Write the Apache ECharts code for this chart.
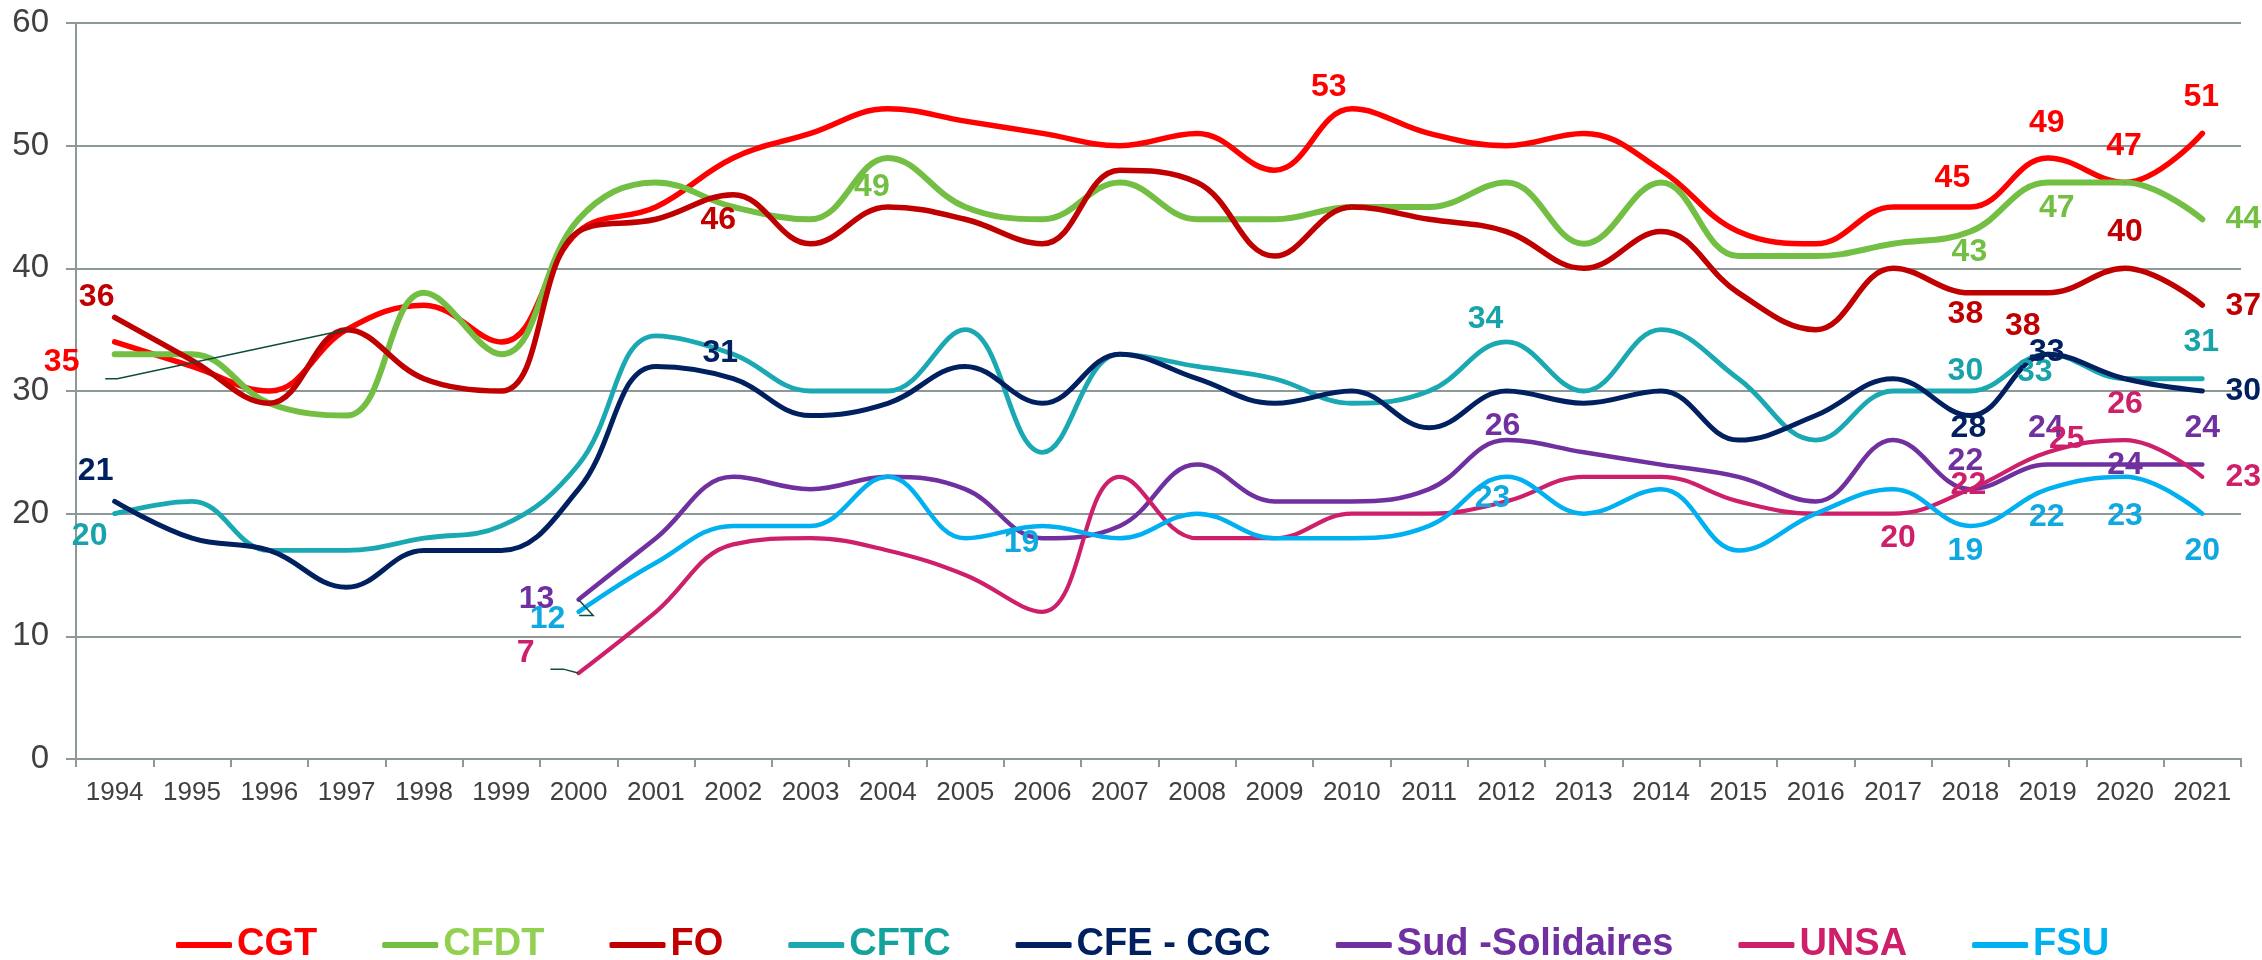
<!DOCTYPE html>
<html>
<head>
<meta charset="utf-8">
<script src="https://cdn.jsdelivr.net/npm/echarts@6/dist/echarts.min.js"></script>
<style>
  html, body {margin: 0; padding: 0; background: #fff;}
  #chart {width: 2262px; height: 960px;}
</style>
</head>
<body>
<div id="chart"></div>
<script>
const years = [1994, 1995, 1996, 1997, 1998, 1999, 2000, 2001, 2002, 2003, 2004, 2005, 2006, 2007,
  2008, 2009, 2010, 2011, 2012, 2013, 2014, 2015, 2016, 2017, 2018, 2019, 2020, 2021];

const cgt = [34, 32, 30, 35, 37, 34, 43, 45, 49, 51, 53, 52, 51, 50, 51, 48, 53, 51, 50, 51, 48, 43, 42, 45, 45, 49, 47, 51];
const cfdt = [33, 33, 29, 28, 38, 33, 44, 47, 45, 44, 49, 45, 44, 47, 44, 44, 45, 45, 47, 42, 47, 41, 41, 42, 43, 47, 47, 44];
const fo = [36, 32.5, 29, 35, 31, 30, 43, 44, 46, 42, 45, 44, 42, 48, 47, 41, 45, 44, 43, 40, 43, 38, 35, 40, 38, 38, 40, 37];
const cftc = [20, 21, 17, 17, 18, 19, 24, 34.5, 33, 30, 30, 35, 25, 33, 32, 31, 29, 30, 34, 30, 35, 31, 26, 30, 30, 33, 31, 31];
const cfeCgc = [21, 18, 17, 14, 17, 17, 22, 32, 31, 28, 29, 32, 29, 33, 31, 29, 30, 27, 30, 29, 30, 26, 28, 31, 28, 33, 31, 30];
const sud = [null, null, null, null, null, null, 13, 18, 23, 22, 23, 22, 18, 19, 24, 21, 21, 22, 26, 25, 24, 23, 21, 26, 22, 24, 24, 24];
const unsa = [null, null, null, null, null, null, 7, 12, 17.5, 18, 17, 15, 12, 23, 18, 18, 20, 20, 21, 23, 23, 21, 20, 20, 22, 25, 26, 23];
const fsu = [null, null, null, null, null, null, 12, 16, 19, 19, 23, 18, 19, 18, 20, 18, 18, 19, 23, 20, 22, 17, 20, 22, 19, 22, 23, 20];

const font = "'Liberation Sans', Arial, sans-serif";
const axisGray = '#8E9896';
const leaderColor = '#0E4D3B';

// where each shown value label sits, relative to its point [dx, dy]
const labelSpots = {
  cgt: {1997: [-285, 33], 2010: [-23, -22], 2018: [-18, -29], 2019: [-1, -35], 2020: [-1, -36], 2021: [-1, -36]},
  cfdt: {2004: [-16, 29], 2018: [-1, 21], 2019: [9, 26], 2021: [41, 0]},
  fo: {1994: [-18, -20], 2002: [-15, 25], 2018: [-5, 21], 2019: [-25, 33], 2020: [0, -36], 2021: [41, 1]},
  cftc: {1994: [-25, 23], 2012: [-21, -23], 2018: [-5, -20], 2019: [-13, 18], 2021: [-1, -37]},
  cfeCgc: {1994: [-19, -30], 2002: [-13, -26], 2018: [-2, 13], 2019: [-1, -2], 2021: [41, 0]},
  sud: {2000: [-42, 0], 2012: [-4, -14], 2018: [-5, -28], 2019: [-2, -36], 2020: [0, 1], 2021: [0, -36]},
  unsa: {2000: [-53, -20], 2017: [5, 25], 2018: [-2, -4], 2019: [19, -13], 2020: [0, -36], 2021: [41, 0]},
  fsu: {2000: [-31, 7], 2006: [-21, 17], 2012: [-14, 21], 2018: [-5, 25], 2019: [-1, 28], 2020: [0, 39], 2021: [0, 38]}
};
// labels pulled away from their point, with a guide line
const leaders = {cgt: {year: 1997, pad: 8, len: 12}, sud: {year: 2000, pad: 7, len: 14}, unsa: {year: 2000, pad: 7, len: 13}};

function lineSeries(key, name, values, color, width, labelColor) {
  const spots = labelSpots[key];
  const lead = leaders[key];
  return {
    name,
    type: 'line',
    smooth: 0.4,
    symbol: 'circle',
    symbolSize: 1,
    showAllSymbol: true,
    lineStyle: {color, width, cap: 'round', join: 'round'},
    itemStyle: {color},
    emphasis: {disabled: true},
    label: {show: false, fontFamily: font, fontWeight: 'bold', fontSize: 32, color: labelColor || color, textBorderWidth: 0},
    labelLine: {show: false},
    data: values.map((v, i) => {
      const spot = spots[years[i]];
      if (!spot) return v;
      const item = {value: v, label: {show: true, position: 'inside', offset: spot}};
      if (lead && lead.year === years[i]) {
        item.label.padding = [0, lead.pad];
        item.labelLine = {show: true, length2: lead.len, lineStyle: {color: leaderColor, width: 1.5}};
      }
      return item;
    })
  };
}

const series = [
  lineSeries('cgt', 'CGT', cgt, '#FF0000', 5.5),
  lineSeries('cfdt', 'CFDT', cfdt, '#72BF44', 6),
  lineSeries('fo', 'FO', fo, '#C00000', 5.5),
  lineSeries('cftc', 'CFTC', cftc, '#1AA9B3', 4.8, '#18A2AA'),
  lineSeries('cfeCgc', 'CFE - CGC', cfeCgc, '#002060', 5),
  lineSeries('sud', 'Sud -Solidaires', sud, '#7030A0', 4.5),
  lineSeries('unsa', 'UNSA', unsa, '#CE1F6A', 4.2),
  lineSeries('fsu', 'FSU', fsu, '#00B0F0', 4.5, '#10A8E0')
];

const legendColors = ['#FF0000', '#92D050', '#C00000', '#13A39C', '#002060', '#7030A0', '#CE1F6A', '#00B0F0'];

const myChart = echarts.init(document.getElementById('chart'));
myChart.setOption({
  animation: false,
  backgroundColor: '#fff',
  grid: {left: 76, right: 21, top: 23, bottom: 201},
  legend: {
    left: 171,
    top: 921,
    icon: 'roundRect',
    itemWidth: 56,
    itemHeight: 6,
    itemGap: 65,
    textStyle: {fontFamily: font, fontWeight: 'bold', fontSize: 38},
    data: series.map((s, i) => ({name: s.name, textStyle: {color: legendColors[i]}}))
  },
  xAxis: {
    type: 'category',
    data: years,
    boundaryGap: true,
    axisLine: {lineStyle: {color: axisGray, width: 2}},
    axisTick: {show: true, length: 8, lineStyle: {color: axisGray, width: 2}},
    axisLabel: {interval: 0, margin: 21, color: '#404040', fontFamily: font, fontSize: 26},
    splitLine: {show: false}
  },
  yAxis: {
    type: 'value',
    min: 0,
    max: 60,
    interval: 10,
    axisLine: {show: true, lineStyle: {color: axisGray, width: 2}},
    axisTick: {show: true, length: 10, lineStyle: {color: axisGray, width: 2}},
    axisLabel: {margin: 27, color: '#404040', fontFamily: font, fontSize: 33},
    splitLine: {lineStyle: {color: axisGray, width: 2}}
  },
  series
});
</script>
</body>
</html>
